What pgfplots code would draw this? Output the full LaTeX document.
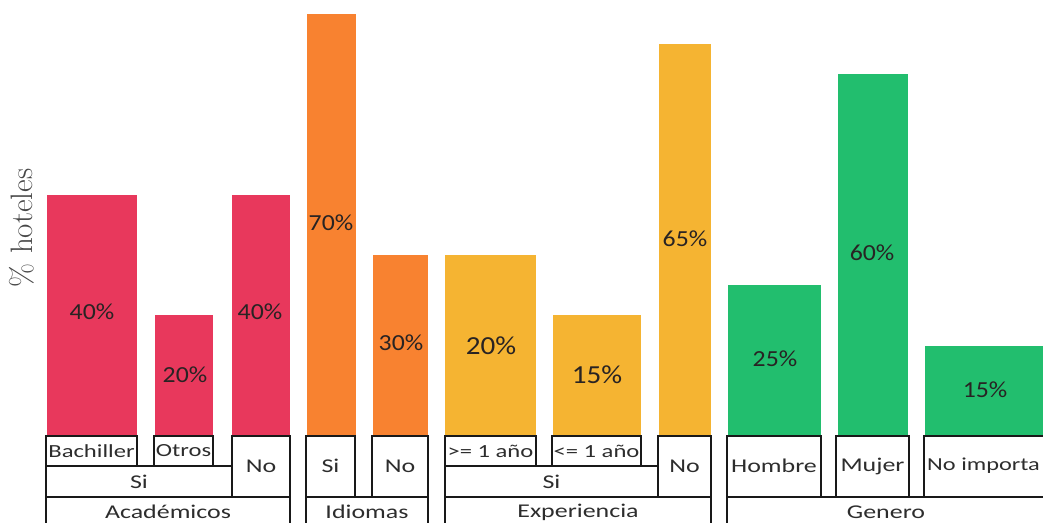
\documentclass[border=0pt]{standalone}
\usepackage{pgfplots}
\pgfplotsset{compat=1.18}
\usepackage{fontspec}
\setmainfont{Latin Modern Roman}
\newfontfamily\boxfont[FakeStretch=1.33]{Carlito}
\newfontfamily\pctfont[FakeStretch=1.12]{Carlito}
\definecolor{cA}{RGB}{232,56,92}
\definecolor{cI}{RGB}{248,130,48}
\definecolor{cE}{RGB}{245,180,50}
\definecolor{cG}{RGB}{34,190,110}
\definecolor{txt}{RGB}{40,35,35}
\definecolor{boxtxt}{RGB}{45,45,45}
\begin{document}
\begin{tikzpicture}[x=1pt,y=1pt]
\begin{axis}[
  scale only axis, width=1043pt, height=522pt,
  xmin=0, xmax=1043, ymin=-14.262, ymax=72.305,
  hide axis, clip=false,
]
% bars: (centre in px, value)
\addplot[ybar, bar shift=0pt, bar width=90, fill=cA, draw=none] coordinates {(92,40)};
\addplot[ybar, bar shift=0pt, bar width=58, fill=cA, draw=none] coordinates {(184,20)};
\addplot[ybar, bar shift=0pt, bar width=58, fill=cA, draw=none] coordinates {(261,40)};
\addplot[ybar, bar shift=0pt, bar width=49, fill=cI, draw=none] coordinates {(331.5,70)};
\addplot[ybar, bar shift=0pt, bar width=55, fill=cI, draw=none] coordinates {(400.5,30)};
\addplot[ybar, bar shift=0pt, bar width=91, fill=cE, draw=none] coordinates {(490.5,30)};
\addplot[ybar, bar shift=0pt, bar width=88, fill=cE, draw=none] coordinates {(597,20)};
\addplot[ybar, bar shift=0pt, bar width=52, fill=cE, draw=none] coordinates {(685,65)};
\addplot[ybar, bar shift=0pt, bar width=93, fill=cG, draw=none] coordinates {(774.5,25)};
\addplot[ybar, bar shift=0pt, bar width=70, fill=cG, draw=none] coordinates {(873,60)};
\addplot[ybar, bar shift=0pt, bar width=130, fill=cG, draw=none] coordinates {(990,15)};

% percentage labels
\begin{scope}[every node/.style={text=txt, font=\pctfont\fontsize{23}{26}\selectfont}]
\node at (92,20.56) {40\%};
\node at (185,10.12) {20\%};
\node at (260,20.56) {40\%};
\node at (331,35.32) {70\%};
\node at (401,15.42) {30\%};
\node[font=\pctfont\fontsize{26}{29}\selectfont] at (491,14.93) {20\%};
\node[font=\pctfont\fontsize{26}{29}\selectfont] at (597,10.12) {15\%};
\node at (685,32.67) {65\%};
\node at (775,12.77) {25\%};
\node at (872,30.35) {60\%};
\node at (985,7.63) {15\%};
\end{scope}

% category boxes
\begin{scope}[line width=1.3pt, draw=black!90]
\draw (46,0) rectangle (137,-4.975);
\draw (154,0) rectangle (213,-4.975);
\draw (46,-4.975) rectangle (232,-10.116);
\draw (232,0) rectangle (290,-10.116);
\draw (46,-14.6) -- (46,-10.116) -- (290,-10.116) -- (290,-14.6);
\draw (306,0) rectangle (355,-10.116);
\draw (372,0) rectangle (428,-10.116);
\draw (306,-14.6) -- (306,-10.116) -- (428,-10.116) -- (428,-14.6);
\draw (445,0) rectangle (536,-4.975);
\draw (552,0) rectangle (641,-4.975);
\draw (445,-4.975) rectangle (658,-10.116);
\draw (658,0) rectangle (711,-10.116);
\draw (445,-14.6) -- (445,-10.116) -- (711,-10.116) -- (711,-14.6);
\draw (727,0) rectangle (821,-10.116);
\draw (836,0) rectangle (909,-10.116);
\draw (924,0) rectangle (1080,-10.116);
\draw (727,-14.6) -- (727,-10.116) -- (1080,-10.116);
\end{scope}

\begin{scope}[every node/.style={text=boxtxt, font=\boxfont\fontsize{19.5}{21}\selectfont, inner sep=0pt}]
\node[font=\boxfont\fontsize{18.5}{20}\selectfont] at (91.5,-2.49) {Bachiller};
\node[font=\boxfont\fontsize{18.5}{20}\selectfont] at (183.5,-2.49) {Otros};
\node at (139,-7.55) {Si};
\node at (261,-4.975) {No};
\node at (168,-12.6) {Académicos};
\node at (330.5,-4.975) {Si};
\node at (400,-4.975) {No};
\node at (367,-12.6) {Idiomas};
\node[font=\boxfont\fontsize{18.5}{20}\selectfont] at (490.5,-2.49) {>= 1 año};
\node[font=\boxfont\fontsize{18.5}{20}\selectfont] at (596.5,-2.49) {<= 1 año};
\node at (551.5,-7.55) {Si};
\node at (684.5,-4.975) {No};
\node at (578,-12.6) {Experiencia};
\node at (774,-4.975) {Hombre};
\node at (872.5,-4.975) {Mujer};
\node[anchor=west, font=\boxfont\fontsize{18.3}{20}\selectfont] at (927,-4.975) {No importa};
\node at (886,-12.6) {Genero};
\end{scope}

\node[rotate=90, text=black!72, font=\fontsize{31}{34}\selectfont] at (22,34.5) {\% hoteles};

\coordinate (BL) at (rel axis cs:0,0);
\coordinate (TR) at (rel axis cs:1,1);
\end{axis}
\pgfresetboundingbox
\path[use as bounding box] (BL) rectangle (TR);
\end{tikzpicture}
\end{document}
